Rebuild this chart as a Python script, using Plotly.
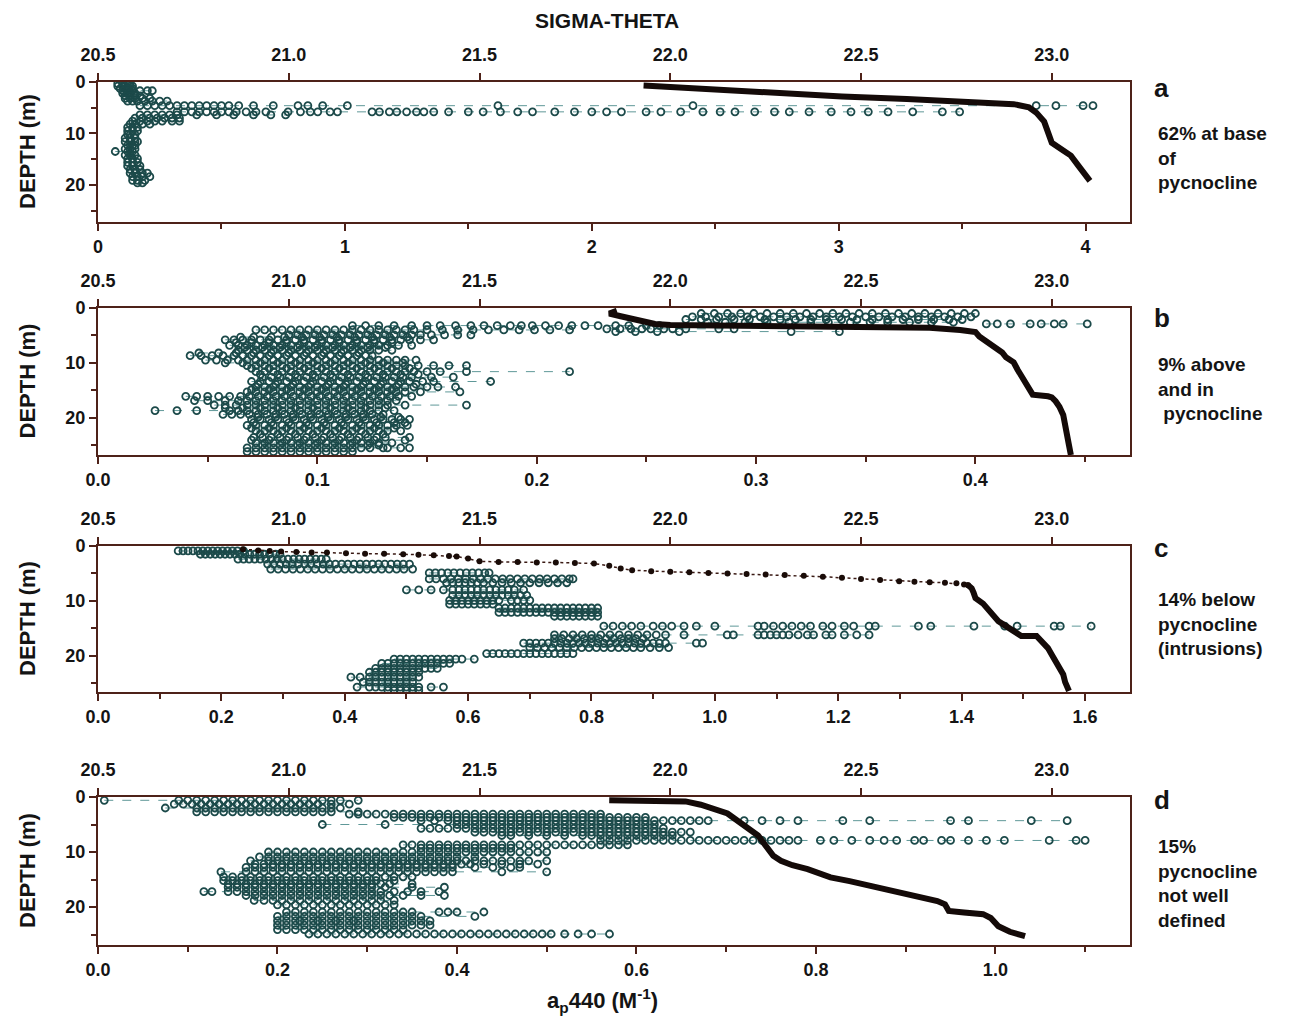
import plotly.graph_objects as go

# ---------------- Panel a ----------------
A_ROW_DEPTH = [0.3, 0.8, 1.3, 1.7, 2.2, 2.7, 3.2, 3.7, 4.6, 5.8, 6.4, 7.0, 7.6, 8.2,
               8.8, 9.5, 10.2, 10.9, 11.6, 12.3, 13.0, 13.5, 14.2, 14.9, 15.6, 16.3,
               17.0, 17.7, 18.4, 19.1, 19.6]
A_ROW_AP = [
    [0.08, 0.10, 0.12, 0.13],
    [0.08, 0.10, 0.11, 0.13, 0.14],
    [0.09, 0.11, 0.12, 0.14],
    [0.10, 0.12, 0.14, 0.17, 0.20, 0.22],
    [0.10, 0.12, 0.13, 0.15],
    [0.11, 0.13, 0.15, 0.17],
    [0.11, 0.13, 0.15, 0.18, 0.21],
    [0.12, 0.14, 0.16, 0.19, 0.22, 0.25, 0.28],
    [0.17, 0.20, 0.23, 0.26, 0.29, 0.32, 0.35, 0.38, 0.41, 0.44, 0.47, 0.50, 0.53,
     0.57, 0.63, 0.71, 0.81, 0.85, 0.91, 1.01, 1.62, 2.41, 3.80, 3.88, 3.99, 4.03],
    [0.32, 0.35, 0.38, 0.41, 0.44, 0.47, 0.50, 0.53, 0.56, 0.60, 0.64, 0.68, 0.77,
     0.82, 0.86, 0.89, 0.94, 0.97, 1.11, 1.14, 1.18, 1.21, 1.25, 1.29, 1.32, 1.36,
     1.42, 1.50, 1.56, 1.63, 1.70, 1.76, 1.85, 1.93, 2.00, 2.06, 2.12, 2.22, 2.28,
     2.36, 2.45, 2.52, 2.58, 2.66, 2.74, 2.80, 2.88, 2.97, 3.05, 3.12, 3.20, 3.30,
     3.42, 3.49],
    [0.17, 0.20, 0.23, 0.26, 0.29, 0.32, 0.40, 0.48, 0.55, 0.63, 0.70, 0.76],
    [0.15, 0.18, 0.21, 0.24, 0.27, 0.30, 0.33],
    [0.14, 0.17, 0.20, 0.23, 0.26, 0.30, 0.33],
    [0.13, 0.15, 0.18, 0.21],
    [0.12, 0.14, 0.16],
    [0.12, 0.14, 0.16],
    [0.12, 0.13, 0.15],
    [0.11, 0.13, 0.15],
    [0.11, 0.13, 0.15, 0.16],
    [0.12, 0.14, 0.15],
    [0.11, 0.13, 0.15],
    [0.07, 0.12, 0.14],
    [0.11, 0.13, 0.15],
    [0.12, 0.14, 0.16],
    [0.12, 0.14, 0.16],
    [0.12, 0.14, 0.17],
    [0.13, 0.15, 0.17],
    [0.13, 0.15, 0.18, 0.20],
    [0.14, 0.16, 0.18, 0.21],
    [0.14, 0.16, 0.19],
    [0.16, 0.18],
]
A_SIG_DEPTH = [0.7, 1.2, 2.2, 2.8, 3.3, 3.8, 4.3, 4.9, 6.0, 7.7, 9.5, 11.8, 13.3,
               14.3, 16.3, 18.0, 19.2]
A_SIG = [21.93, 22.05, 22.28, 22.45, 22.62, 22.80, 22.90, 22.94, 22.96, 22.98,
         22.99, 23.00, 23.03, 23.05, 23.07, 23.09, 23.10]

# ---------------- Panel b ----------------
B_ROW_DEPTH = [1.0, 1.6, 2.1, 2.6, 2.9, 3.2, 3.8, 4.3, 4.0, 4.9, 5.8, 6.8, 7.7, 8.7,
               9.5, 10.5, 11.6, 12.6, 13.4, 14.4, 15.3, 16.1, 16.9, 17.7, 18.7,
               19.4, 20.3, 21.4, 22.4, 23.6, 24.6, 25.5, 26.2,
               5.3, 6.3, 7.2, 8.2, 10.0, 11.0, 12.1, 13.9, 14.9, 18.2, 19.9, 20.9,
               21.9, 23.0, 24.1, 25.0]
B_ROW_AP = [
    [0.275, 0.281, 0.287, 0.293, 0.299, 0.305, 0.311, 0.317, 0.323, 0.329, 0.335,
     0.341, 0.347, 0.353, 0.359, 0.365, 0.371, 0.377, 0.383, 0.389, 0.395, 0.400],
    [0.271, 0.277, 0.283, 0.289, 0.296, 0.302, 0.308, 0.314, 0.320, 0.326, 0.332,
     0.338, 0.344, 0.350, 0.356, 0.362, 0.368, 0.374, 0.380, 0.386, 0.392, 0.398],
    [0.268, 0.275, 0.282, 0.290, 0.297, 0.304, 0.311, 0.318, 0.325, 0.332, 0.339,
     0.346, 0.353, 0.360, 0.367, 0.374, 0.381, 0.388, 0.394],
    [0.278, 0.286, 0.295, 0.305, 0.315, 0.325, 0.333, 0.343, 0.352, 0.360, 0.370,
     0.380, 0.390],
    [0.405, 0.410, 0.416, 0.425, 0.430, 0.436, 0.440, 0.451],
    [0.116, 0.122, 0.128, 0.135, 0.143, 0.150, 0.156, 0.163, 0.170, 0.176, 0.182,
     0.188, 0.193, 0.198, 0.204, 0.210, 0.216, 0.222, 0.228, 0.236, 0.242, 0.250,
     0.256],
    [0.232, 0.238, 0.243, 0.248, 0.252, 0.258, 0.262, 0.268, 0.283, 0.290],
    [0.236, 0.245, 0.255, 0.265, 0.316, 0.338],
    [0.072, 0.076, 0.080, 0.084, 0.088, 0.092, 0.096, 0.100, 0.104, 0.108, 0.112,
     0.116, 0.120, 0.124, 0.128, 0.132, 0.136, 0.140, 0.144, 0.150, 0.157, 0.164,
     0.171, 0.178, 0.185, 0.192, 0.199, 0.206, 0.215],
    [0.087, 0.091, 0.095, 0.099, 0.103, 0.107, 0.111, 0.115, 0.119, 0.123, 0.127,
     0.131, 0.135, 0.139, 0.143, 0.147, 0.152, 0.158, 0.164, 0.170],
    [0.058, 0.062, 0.066, 0.070, 0.074, 0.078, 0.082, 0.086, 0.090, 0.094, 0.098,
     0.102, 0.106, 0.110, 0.114, 0.118, 0.122, 0.126, 0.130, 0.134, 0.138, 0.142,
     0.147, 0.153],
    [0.060, 0.064, 0.068, 0.072, 0.076, 0.080, 0.084, 0.088, 0.092, 0.096, 0.100,
     0.104, 0.108, 0.112, 0.116, 0.120, 0.124, 0.128, 0.132, 0.137, 0.143],
    [0.064, 0.068, 0.072, 0.076, 0.080, 0.084, 0.088, 0.092, 0.096, 0.100, 0.104,
     0.108, 0.112, 0.116, 0.120, 0.124, 0.128, 0.134],
    [0.042, 0.047, 0.052, 0.057, 0.062, 0.066, 0.070, 0.074, 0.078, 0.082, 0.086,
     0.090, 0.094, 0.098, 0.102, 0.106, 0.110, 0.114, 0.118, 0.122, 0.125],
    [0.049, 0.054, 0.059, 0.064, 0.068, 0.072, 0.076, 0.080, 0.084, 0.088, 0.092,
     0.096, 0.100, 0.104, 0.108, 0.112, 0.116, 0.120, 0.124, 0.128, 0.132, 0.136,
     0.140, 0.145],
    [0.068, 0.072, 0.076, 0.080, 0.084, 0.088, 0.092, 0.096, 0.100, 0.104, 0.108,
     0.112, 0.116, 0.120, 0.124, 0.128, 0.132, 0.136, 0.140, 0.146, 0.153, 0.160,
     0.168],
    [0.072, 0.076, 0.080, 0.084, 0.088, 0.092, 0.096, 0.100, 0.104, 0.108, 0.112,
     0.116, 0.120, 0.124, 0.128, 0.132, 0.136, 0.140, 0.144, 0.150, 0.156, 0.168,
     0.215],
    [0.075, 0.079, 0.083, 0.087, 0.091, 0.095, 0.099, 0.103, 0.107, 0.111, 0.115,
     0.119, 0.123, 0.127, 0.131, 0.135, 0.139, 0.143, 0.152, 0.162],
    [0.070, 0.074, 0.078, 0.082, 0.086, 0.090, 0.094, 0.098, 0.102, 0.106, 0.110,
     0.114, 0.118, 0.122, 0.126, 0.130, 0.134, 0.138, 0.142, 0.148, 0.153, 0.179],
    [0.072, 0.076, 0.080, 0.084, 0.088, 0.092, 0.096, 0.100, 0.104, 0.108, 0.112,
     0.116, 0.120, 0.124, 0.128, 0.132, 0.136, 0.140, 0.144, 0.150, 0.155, 0.163],
    [0.068, 0.072, 0.076, 0.080, 0.084, 0.088, 0.092, 0.096, 0.100, 0.104, 0.108,
     0.112, 0.116, 0.120, 0.124, 0.128, 0.132, 0.136, 0.140, 0.147, 0.165],
    [0.040, 0.045, 0.050, 0.055, 0.060, 0.065, 0.069, 0.073, 0.077, 0.081, 0.085,
     0.089, 0.093, 0.097, 0.101, 0.105, 0.109, 0.113, 0.117, 0.121, 0.125, 0.129,
     0.133, 0.137, 0.143],
    [0.044, 0.050, 0.058, 0.064, 0.068, 0.072, 0.076, 0.080, 0.084, 0.088, 0.092,
     0.096, 0.100, 0.104, 0.108, 0.112, 0.116, 0.120, 0.124, 0.128, 0.132, 0.136],
    [0.053, 0.058, 0.063, 0.068, 0.072, 0.076, 0.080, 0.084, 0.088, 0.092, 0.096,
     0.100, 0.104, 0.108, 0.112, 0.116, 0.120, 0.124, 0.128, 0.132, 0.140, 0.168],
    [0.026, 0.036, 0.045, 0.060, 0.064, 0.068, 0.072, 0.076, 0.080, 0.084, 0.088,
     0.092, 0.096, 0.100, 0.104, 0.108, 0.112, 0.116, 0.120, 0.124, 0.128, 0.135],
    [0.057, 0.061, 0.065, 0.069, 0.073, 0.077, 0.081, 0.085, 0.089, 0.093, 0.097,
     0.101, 0.105, 0.109, 0.113, 0.117, 0.121, 0.125, 0.130],
    [0.070, 0.074, 0.078, 0.082, 0.086, 0.090, 0.094, 0.098, 0.102, 0.106, 0.110,
     0.114, 0.118, 0.122, 0.126, 0.130, 0.134, 0.138, 0.142],
    [0.068, 0.072, 0.076, 0.080, 0.084, 0.088, 0.092, 0.096, 0.100, 0.104, 0.108,
     0.112, 0.116, 0.120, 0.124, 0.128, 0.132, 0.136, 0.141],
    [0.072, 0.076, 0.080, 0.084, 0.088, 0.092, 0.096, 0.100, 0.104, 0.108, 0.112,
     0.116, 0.120, 0.124, 0.128, 0.132, 0.138],
    [0.071, 0.075, 0.079, 0.083, 0.087, 0.091, 0.095, 0.099, 0.103, 0.107, 0.111,
     0.115, 0.119, 0.123, 0.127, 0.131, 0.142],
    [0.072, 0.076, 0.080, 0.084, 0.088, 0.092, 0.096, 0.100, 0.104, 0.108, 0.112,
     0.116, 0.120, 0.124, 0.128, 0.134],
    [0.068, 0.072, 0.076, 0.080, 0.084, 0.088, 0.092, 0.096, 0.100, 0.104, 0.108,
     0.112, 0.116, 0.120, 0.124, 0.130, 0.132, 0.138, 0.142],
    [0.068, 0.072, 0.076, 0.080, 0.084, 0.088, 0.092, 0.096, 0.100, 0.104, 0.108,
     0.112, 0.116],
    # staggered in-between rows
    [0.065, 0.071, 0.079, 0.085, 0.093, 0.101, 0.109, 0.117, 0.125, 0.133, 0.141],
    [0.063, 0.070, 0.078, 0.086, 0.094, 0.102, 0.110, 0.118, 0.126, 0.134],
    [0.067, 0.075, 0.083, 0.091, 0.099, 0.107, 0.115, 0.123, 0.131],
    [0.046, 0.055, 0.063, 0.071, 0.079, 0.087, 0.095, 0.103, 0.111, 0.119],
    [0.058, 0.066, 0.074, 0.082, 0.090, 0.098, 0.106, 0.114, 0.122, 0.130, 0.139],
    [0.070, 0.078, 0.086, 0.094, 0.102, 0.110, 0.118, 0.126, 0.134, 0.142],
    [0.074, 0.082, 0.090, 0.098, 0.106, 0.114, 0.122, 0.130, 0.138, 0.146],
    [0.073, 0.081, 0.089, 0.097, 0.105, 0.113, 0.121, 0.129, 0.137, 0.145],
    [0.070, 0.078, 0.086, 0.094, 0.102, 0.110, 0.118, 0.126, 0.134],
    [0.058, 0.066, 0.074, 0.082, 0.090, 0.098, 0.106, 0.114, 0.122, 0.131],
    [0.073, 0.081, 0.089, 0.097, 0.105, 0.113, 0.121, 0.129, 0.137],
    [0.071, 0.079, 0.087, 0.095, 0.103, 0.111, 0.119, 0.127, 0.135, 0.140],
    [0.070, 0.078, 0.086, 0.094, 0.102, 0.110, 0.118, 0.126, 0.135],
    [0.074, 0.082, 0.090, 0.098, 0.106, 0.114, 0.122, 0.130],
    [0.070, 0.078, 0.086, 0.094, 0.102, 0.110, 0.118, 0.126, 0.140],
    [0.075, 0.083, 0.091, 0.099, 0.107, 0.115, 0.123, 0.128],
]
B_SIG_DEPTH = [0.5, 1.0, 1.5, 2.0, 2.5, 2.9, 3.1, 3.2, 3.3, 3.4, 3.6, 4.0, 4.4, 5.2,
               6.2, 7.2, 8.1, 9.0, 9.9, 11.2, 12.4, 13.5, 14.3, 15.8, 16.1, 16.3,
               17.0, 18.0, 19.5, 21.0, 23.0, 25.0, 26.8]
B_SIG = [21.86, 21.84, 21.87, 21.90, 21.93, 21.96, 22.00, 22.20, 22.40, 22.60,
         22.68, 22.76, 22.80, 22.81, 22.83, 22.85, 22.87, 22.88, 22.90, 22.91,
         22.92, 22.93, 22.94, 22.95, 22.99, 23.00, 23.01, 23.02, 23.03, 23.035,
         23.04, 23.045, 23.05]

# ---------------- Panel c ----------------
C_ROW_DEPTH = [0.9, 1.5, 2.4, 3.3, 4.2, 4.9, 6.0, 6.7, 8.0, 9.0, 9.9, 10.6, 11.3,
               12.1, 12.8, 14.6, 16.2, 16.9, 17.7, 18.5, 19.6, 20.6, 21.4, 22.3,
               23.0, 23.9, 24.8, 25.7, 26.3]
C_ROW_AP = [
    [0.130, 0.138, 0.146, 0.154, 0.162, 0.170, 0.178, 0.186, 0.194, 0.202, 0.210,
     0.218, 0.226, 0.236],
    [0.166, 0.174, 0.182, 0.190, 0.198, 0.206, 0.214, 0.222, 0.230, 0.238, 0.246,
     0.254, 0.262, 0.270, 0.278, 0.288, 0.295],
    [0.227, 0.236, 0.245, 0.254, 0.263, 0.272, 0.281, 0.290, 0.299, 0.308, 0.317,
     0.326, 0.335, 0.344, 0.353, 0.362, 0.370],
    [0.275, 0.285, 0.295, 0.305, 0.315, 0.325, 0.335, 0.345, 0.355, 0.365, 0.375,
     0.385, 0.395, 0.405, 0.415, 0.425, 0.435, 0.445, 0.455, 0.465, 0.475, 0.485,
     0.495, 0.505],
    [0.280, 0.292, 0.304, 0.316, 0.328, 0.340, 0.352, 0.364, 0.376, 0.388, 0.400,
     0.412, 0.424, 0.436, 0.448, 0.460, 0.472, 0.484, 0.496, 0.510],
    [0.537, 0.547, 0.557, 0.567, 0.577, 0.587, 0.597, 0.607, 0.617, 0.627, 0.634],
    [0.537, 0.548, 0.560, 0.572, 0.584, 0.596, 0.608, 0.620, 0.632, 0.644, 0.656,
     0.668, 0.680, 0.692, 0.704, 0.716, 0.728, 0.740, 0.752, 0.764, 0.770],
    [0.565, 0.575, 0.585, 0.595, 0.605, 0.615, 0.625, 0.640, 0.655, 0.670, 0.685,
     0.700, 0.715, 0.730, 0.745, 0.760],
    [0.50, 0.52, 0.54, 0.56, 0.575, 0.585, 0.595, 0.605, 0.615, 0.625, 0.635,
     0.645, 0.655, 0.665, 0.675, 0.690],
    [0.575, 0.585, 0.595, 0.605, 0.615, 0.625, 0.635, 0.645, 0.655, 0.665, 0.675,
     0.685, 0.695],
    [0.57, 0.58, 0.59, 0.60, 0.61, 0.62, 0.63, 0.64, 0.65, 0.67, 0.68, 0.69, 0.70],
    [0.57, 0.58, 0.59, 0.60, 0.61, 0.62, 0.63, 0.64],
    [0.650, 0.660, 0.670, 0.680, 0.690, 0.700, 0.710, 0.720, 0.730, 0.740, 0.750,
     0.760, 0.770, 0.780, 0.790, 0.800, 0.810],
    [0.650, 0.660, 0.670, 0.680, 0.690, 0.700, 0.710, 0.720, 0.730, 0.740, 0.750,
     0.760, 0.770, 0.780, 0.790, 0.800, 0.810],
    [0.740, 0.750, 0.760, 0.770, 0.780, 0.790, 0.800, 0.810],
    [0.82, 0.835, 0.85, 0.865, 0.88, 0.90, 0.915, 0.93, 0.95, 0.97, 1.00, 1.07,
     1.08, 1.095, 1.11, 1.125, 1.14, 1.155, 1.175, 1.19, 1.21, 1.225, 1.25, 1.26,
     1.33, 1.35, 1.42, 1.47, 1.49, 1.55, 1.56, 1.61],
    [0.74, 0.755, 0.77, 0.785, 0.80, 0.815, 0.83, 0.845, 0.86, 0.875, 0.89, 0.905,
     0.92, 0.95, 1.02, 1.03, 1.07, 1.08, 1.09, 1.10, 1.11, 1.12, 1.135, 1.15,
     1.16, 1.18, 1.19, 1.21, 1.23, 1.25],
    [0.74, 0.752, 0.764, 0.776, 0.788, 0.80, 0.812, 0.824, 0.836, 0.848, 0.86,
     0.872, 0.884],
    [0.69, 0.70, 0.71, 0.72, 0.73, 0.74, 0.75, 0.76, 0.77, 0.78, 0.79, 0.80, 0.81,
     0.82, 0.83, 0.84, 0.85, 0.86, 0.87, 0.88, 0.89, 0.90, 0.91, 0.92, 0.97, 0.98],
    [0.70, 0.712, 0.724, 0.736, 0.748, 0.76, 0.772, 0.784, 0.796, 0.808, 0.82,
     0.832, 0.844, 0.856, 0.868, 0.88, 0.895, 0.91, 0.925],
    [0.63, 0.64, 0.65, 0.66, 0.67, 0.68, 0.69, 0.70, 0.71, 0.72, 0.73, 0.74, 0.75,
     0.76, 0.77],
    [0.48, 0.49, 0.50, 0.51, 0.52, 0.53, 0.54, 0.55, 0.56, 0.57, 0.58, 0.59, 0.61],
    [0.46, 0.47, 0.48, 0.49, 0.50, 0.51, 0.52, 0.53, 0.54, 0.55, 0.56, 0.57],
    [0.45, 0.46, 0.47, 0.48, 0.49, 0.50, 0.51, 0.52, 0.53, 0.54, 0.55],
    [0.44, 0.45, 0.46, 0.47, 0.48, 0.49, 0.50, 0.51, 0.52],
    [0.41, 0.425, 0.44, 0.45, 0.46, 0.47, 0.48, 0.49, 0.50, 0.51, 0.52],
    [0.43, 0.44, 0.45, 0.46, 0.47, 0.48, 0.49, 0.50, 0.51],
    [0.42, 0.44, 0.45, 0.46, 0.47, 0.48, 0.49, 0.50, 0.51, 0.52, 0.54, 0.56],
    [0.47, 0.48, 0.49, 0.50, 0.51, 0.52],
]
C_SIG_UP_DEPTH = [0.6, 0.8, 0.9, 1.0, 1.1, 1.2, 1.2, 1.3, 1.4, 1.4, 1.5, 1.6, 1.7,
                  1.8, 1.9, 2.3, 2.8, 2.9, 2.9, 3.0, 3.0, 3.1, 3.2, 3.6, 4.1, 4.4,
                  4.6, 4.7, 4.8, 4.9, 5.0, 5.1, 5.2, 5.3, 5.4, 5.6, 5.8, 6.0, 6.2,
                  6.4, 6.5, 6.6, 6.7, 6.8, 7.0, 7.1]
C_SIG_UP = [20.88, 20.92, 20.95, 20.98, 21.02, 21.06, 21.10, 21.15, 21.20, 21.25,
            21.30, 21.34, 21.38, 21.42, 21.44, 21.47, 21.50, 21.55, 21.60, 21.65,
            21.70, 21.75, 21.80, 21.84, 21.87, 21.90, 21.95, 22.00, 22.05, 22.10,
            22.15, 22.20, 22.25, 22.30, 22.35, 22.40, 22.45, 22.50, 22.55, 22.60,
            22.64, 22.68, 22.72, 22.75, 22.77, 22.78]
C_SIG_LOW_DEPTH = [7.1, 7.7, 8.5, 9.5, 10.5, 11.3, 12.5, 13.7, 14.6, 15.5, 16.4,
                   16.4, 17.5, 18.6, 19.8, 21.0, 22.2, 23.4, 24.8, 26.4]
C_SIG_LOW = [22.78, 22.79, 22.795, 22.80, 22.82, 22.83, 22.845, 22.86, 22.88,
             22.90, 22.92, 22.96, 22.975, 22.99, 23.00, 23.01, 23.02, 23.03,
             23.035, 23.045]

# ---------------- Panel d ----------------
D_ROW_DEPTH = [0.6, 1.3, 2.0, 2.7, 3.1, 3.7, 4.3, 5.0, 5.7, 6.4, 7.0, 7.9, 8.7, 9.3,
               10.0, 10.9, 11.6, 12.2, 12.8, 13.6, 14.5, 15.2, 15.8, 16.4, 17.2,
               17.9, 18.8, 19.6, 20.9, 21.7, 22.5, 23.3, 24.1, 24.9]
D_ROW_AP = [
    [0.007, 0.09, 0.10, 0.11, 0.12, 0.13, 0.14, 0.15, 0.16, 0.17, 0.18, 0.19, 0.20,
     0.21, 0.22, 0.23, 0.24, 0.25, 0.26, 0.27, 0.29],
    [0.085, 0.095, 0.105, 0.115, 0.125, 0.135, 0.145, 0.155, 0.165, 0.175, 0.185,
     0.195, 0.205, 0.215, 0.225, 0.235, 0.245, 0.26, 0.28],
    [0.075, 0.11, 0.12, 0.13, 0.14, 0.15, 0.16, 0.17, 0.18, 0.19, 0.20, 0.21, 0.22,
     0.23, 0.24, 0.25, 0.26, 0.27],
    [0.11, 0.12, 0.13, 0.14, 0.15, 0.16, 0.17, 0.18, 0.19, 0.20, 0.21, 0.22, 0.23,
     0.24, 0.25, 0.26, 0.29],
    [0.28, 0.29, 0.30, 0.31, 0.32, 0.33, 0.34, 0.35, 0.36, 0.37, 0.38, 0.39, 0.40,
     0.41, 0.42, 0.43, 0.44, 0.45, 0.46, 0.47, 0.48, 0.49, 0.50, 0.51, 0.52, 0.53,
     0.54, 0.55, 0.56],
    [0.33, 0.34, 0.35, 0.36, 0.37, 0.38, 0.39, 0.40, 0.41, 0.42, 0.43, 0.44, 0.45,
     0.46, 0.47, 0.48, 0.49, 0.50, 0.51, 0.52, 0.53, 0.54, 0.55, 0.56, 0.57, 0.58,
     0.59, 0.60, 0.61],
    [0.36, 0.375, 0.39, 0.40, 0.41, 0.42, 0.43, 0.44, 0.45, 0.46, 0.47, 0.48, 0.49,
     0.50, 0.51, 0.52, 0.53, 0.54, 0.55, 0.56, 0.57, 0.58, 0.59, 0.60, 0.61, 0.62,
     0.63, 0.64, 0.65, 0.66, 0.67, 0.68, 0.72, 0.74, 0.76, 0.78, 0.83, 0.86, 0.95,
     0.97, 1.04, 1.08],
    [0.25, 0.32, 0.40, 0.41, 0.42, 0.43, 0.44, 0.45, 0.46, 0.47, 0.48, 0.49, 0.50,
     0.51, 0.52, 0.53, 0.54, 0.55, 0.56, 0.57, 0.58, 0.59, 0.60, 0.61, 0.62],
    [0.36, 0.37, 0.38, 0.39, 0.40, 0.41, 0.42, 0.43, 0.44, 0.45, 0.46, 0.47, 0.48,
     0.49, 0.50, 0.51, 0.52, 0.53, 0.54, 0.55, 0.56, 0.57, 0.58, 0.59, 0.60, 0.61,
     0.62, 0.63],
    [0.42, 0.43, 0.44, 0.45, 0.46, 0.47, 0.48, 0.49, 0.50, 0.51, 0.52, 0.53, 0.54,
     0.55, 0.56, 0.57, 0.58, 0.59, 0.60, 0.61, 0.62, 0.63, 0.64, 0.65, 0.66],
    [0.45, 0.46, 0.48, 0.50, 0.52, 0.54, 0.55, 0.56, 0.57, 0.58, 0.59, 0.60, 0.61,
     0.62, 0.63, 0.64],
    [0.56, 0.57, 0.58, 0.59, 0.60, 0.61, 0.62, 0.63, 0.64, 0.65, 0.66, 0.67, 0.68,
     0.69, 0.70, 0.71, 0.72, 0.73, 0.74, 0.75, 0.76, 0.77, 0.78, 0.805, 0.82, 0.84,
     0.86, 0.876, 0.89, 0.91, 0.92, 0.94, 0.95, 0.97, 0.99, 1.01, 1.06, 1.09, 1.10],
    [0.34, 0.35, 0.36, 0.37, 0.38, 0.39, 0.40, 0.41, 0.42, 0.43, 0.44, 0.45, 0.46,
     0.47, 0.48, 0.49, 0.50, 0.51, 0.52, 0.53, 0.54, 0.55, 0.56, 0.57, 0.58, 0.59],
    [0.36, 0.37, 0.38, 0.39, 0.40, 0.41, 0.42, 0.43, 0.44, 0.45, 0.46],
    [0.19, 0.20, 0.21, 0.22, 0.23, 0.24, 0.25, 0.26, 0.27, 0.28, 0.29, 0.30, 0.31,
     0.32, 0.33, 0.34, 0.35, 0.36, 0.37, 0.38, 0.39, 0.40, 0.41, 0.42, 0.43, 0.44,
     0.45, 0.46, 0.47, 0.48, 0.49, 0.50],
    [0.18, 0.19, 0.20, 0.21, 0.22, 0.23, 0.24, 0.25, 0.26, 0.27, 0.28, 0.29, 0.30,
     0.31, 0.32, 0.33, 0.34, 0.35, 0.36, 0.37, 0.38, 0.39, 0.40, 0.42],
    [0.17, 0.19, 0.20, 0.21, 0.22, 0.23, 0.24, 0.25, 0.26, 0.27, 0.28, 0.29, 0.30,
     0.31, 0.32, 0.33, 0.34, 0.35, 0.36, 0.37, 0.38, 0.39, 0.40, 0.41, 0.42, 0.43,
     0.44, 0.45, 0.46, 0.47, 0.48, 0.50],
    [0.175, 0.185, 0.195, 0.205, 0.215, 0.225, 0.235, 0.245, 0.255, 0.265, 0.275,
     0.285, 0.295, 0.305, 0.315, 0.325, 0.335, 0.345, 0.355, 0.365, 0.375, 0.385,
     0.395, 0.405, 0.415, 0.43, 0.45, 0.47, 0.49],
    [0.165, 0.175, 0.185, 0.195, 0.205, 0.215, 0.225, 0.235, 0.245, 0.255, 0.265,
     0.275, 0.285, 0.295, 0.305, 0.315, 0.325, 0.335, 0.345, 0.355, 0.365, 0.375,
     0.385, 0.395, 0.42, 0.44, 0.46, 0.47],
    [0.137, 0.165, 0.175, 0.185, 0.195, 0.205, 0.215, 0.225, 0.235, 0.245, 0.255,
     0.265, 0.275, 0.285, 0.295, 0.305, 0.315, 0.325, 0.335, 0.345, 0.355, 0.365,
     0.375, 0.385, 0.395, 0.45, 0.50],
    [0.14, 0.15, 0.16, 0.17, 0.18, 0.19, 0.20, 0.21, 0.22, 0.23, 0.24, 0.25, 0.26,
     0.27, 0.28, 0.29, 0.30, 0.31, 0.32, 0.33, 0.34, 0.35],
    [0.14, 0.15, 0.16, 0.17, 0.18, 0.19, 0.20, 0.21, 0.22, 0.23, 0.24, 0.25, 0.26,
     0.27, 0.28, 0.29, 0.30, 0.31, 0.33],
    [0.145, 0.155, 0.165, 0.175, 0.185, 0.195, 0.205, 0.215, 0.225, 0.235, 0.245,
     0.255, 0.265, 0.275, 0.285, 0.295, 0.305, 0.315, 0.325, 0.35],
    [0.145, 0.155, 0.165, 0.175, 0.185, 0.195, 0.205, 0.215, 0.225, 0.235, 0.245,
     0.255, 0.265, 0.275, 0.285, 0.295, 0.305, 0.32, 0.35, 0.386],
    [0.118, 0.127, 0.145, 0.155, 0.165, 0.175, 0.185, 0.195, 0.205, 0.215, 0.225,
     0.235, 0.245, 0.255, 0.265, 0.275, 0.285, 0.295, 0.305, 0.315, 0.33, 0.345,
     0.36, 0.38],
    [0.165, 0.175, 0.185, 0.195, 0.205, 0.215, 0.225, 0.235, 0.245, 0.255, 0.265,
     0.275, 0.285, 0.295, 0.305, 0.315, 0.325, 0.34, 0.36, 0.386],
    [0.174, 0.185, 0.195, 0.205, 0.215, 0.225, 0.235, 0.245, 0.255, 0.265, 0.275,
     0.285, 0.295, 0.305, 0.315, 0.33],
    [0.20, 0.21, 0.22, 0.23, 0.24, 0.25, 0.26, 0.27, 0.28, 0.29, 0.30, 0.31, 0.32,
     0.33],
    [0.21, 0.22, 0.23, 0.24, 0.25, 0.26, 0.27, 0.28, 0.29, 0.30, 0.31, 0.32, 0.33,
     0.34, 0.35, 0.38, 0.39, 0.40, 0.43],
    [0.20, 0.21, 0.22, 0.23, 0.24, 0.25, 0.26, 0.27, 0.28, 0.29, 0.30, 0.31, 0.32,
     0.33, 0.34, 0.35, 0.36, 0.42],
    [0.20, 0.21, 0.22, 0.225, 0.23, 0.24, 0.245, 0.25, 0.26, 0.265, 0.27, 0.28,
     0.285, 0.29, 0.30, 0.31, 0.32, 0.33, 0.34, 0.35, 0.36, 0.37],
    [0.20, 0.21, 0.22, 0.23, 0.24, 0.25, 0.26, 0.27, 0.28, 0.29, 0.30, 0.31, 0.32,
     0.33, 0.34, 0.35, 0.36, 0.37],
    [0.20, 0.21, 0.22, 0.23, 0.24, 0.25, 0.26, 0.27, 0.28, 0.29, 0.30, 0.31, 0.32,
     0.33, 0.34],
    [0.235, 0.245, 0.255, 0.265, 0.275, 0.285, 0.295, 0.305, 0.315, 0.325, 0.335,
     0.345, 0.355, 0.365, 0.375, 0.385, 0.395, 0.405, 0.415, 0.425, 0.435, 0.445,
     0.455, 0.465, 0.475, 0.485, 0.495, 0.505, 0.52, 0.535, 0.55, 0.57],
]
D_SIG_DEPTH = [0.6, 0.6, 0.8, 1.4, 2.1, 3.0, 4.0, 4.9, 6.0, 7.0, 7.9, 8.8, 9.8,
               10.7, 11.6, 12.4, 13.1, 13.8, 14.6, 15.3, 15.9, 16.7, 17.4, 18.2,
               18.9, 19.5, 20.7, 21.0, 21.3, 22.0, 23.5, 24.5, 25.3]
D_SIG = [21.84, 22.02, 22.04, 22.08, 22.11, 22.15, 22.17, 22.19, 22.21, 22.23,
         22.24, 22.25, 22.26, 22.27, 22.29, 22.32, 22.36, 22.39, 22.42, 22.47,
         22.51, 22.56, 22.60, 22.65, 22.70, 22.72, 22.73, 22.77, 22.82, 22.84,
         22.86, 22.89, 22.93]

# ---------------- Axis / label text ----------------
AP_RANGES = [[0, 4.18], [0, 0.4705], [0, 1.673], [0, 1.15]]
AP_DTICK = [1, 0.1, 0.2, 0.2]
AP_MINOR = [0.5, 0.05, 0.1, 0.1]
AP_FMT = ["d", ".1f", ".1f", ".1f"]
SIG_RANGE = [20.5, 23.205]
DEPTH_RANGES = [[27.2, 0], [26.8, 0], [26.6, 0], [26.9, 0]]
PANEL_LETTERS = ["a", "b", "c", "d"]
PANEL_NOTES = ["62% at base<br>of<br>pycnocline",
               "9% above<br>and in<br>\u00a0pycnocline",
               "14% below<br>pycnocline<br>(intrusions)",
               "15%<br>pycnocline<br>not well<br>defined"]

# ---------------- Layout geometry (reference pixels) ----------------
OFF = 8                       # page body margin
W, H = 1298 - 2 * OFF, 1028 - 2 * OFF
PANEL_PX = [(82, 222), (308, 455), (546, 692), (797, 945)]
LEFT_PX, RIGHT_PX = 98, 1130
LETTER_Y = [88, 318, 548, 800]
NOTE_Y = [158, 389, 624, 883]


def px(xp):
    return (xp - OFF) / W


def py(yp):
    return 1 - (yp - OFF) / H


BROWN = "#4e2219"
TEAL = "#1c4a4a"
TEAL_LINE = "#5f9898"
TXT = "#141414"
FONT = "Liberation Sans"


def rows_xy(depths, rows):
    xs, ys = [], []
    for d, r in zip(depths, rows):
        xs += list(r) + [None]
        ys += [d] * len(r) + [None]
    return xs, ys


fig = go.Figure()
rows = [(A_ROW_DEPTH, A_ROW_AP), (B_ROW_DEPTH, B_ROW_AP),
        (C_ROW_DEPTH, C_ROW_AP), (D_ROW_DEPTH, D_ROW_AP)]
sigs = [[(A_SIG_DEPTH, A_SIG)], [(B_SIG_DEPTH, B_SIG)],
        [(C_SIG_LOW_DEPTH, C_SIG_LOW)], [(D_SIG_DEPTH, D_SIG)]]

tickfont = dict(family=FONT, size=18, color=TXT, weight="bold")
layout = dict(template="none", width=W, height=H,
              margin=dict(l=0, r=0, t=0, b=0, autoexpand=False),
              paper_bgcolor="white", plot_bgcolor="white", showlegend=False)

for i in range(4):
    xb = "x" if i == 0 else f"x{2 * i + 1}"
    xt = f"x{2 * i + 2}"
    yy = "y" if i == 0 else f"y{i + 1}"
    top_px, bot_px = PANEL_PX[i]
    ydom = [py(bot_px), py(top_px)]

    dx, dy = rows_xy(*rows[i])
    fig.add_trace(go.Scatter(
        x=dx, y=dy, xaxis=xb, yaxis=yy, mode="lines+markers",
        line=dict(color=TEAL_LINE, width=1, dash="dash"),
        marker=dict(symbol="circle-open", size=7, color=TEAL,
                    line=dict(width=1.8, color=TEAL)),
        connectgaps=False, hoverinfo="skip"))

    if i == 2:
        fig.add_trace(go.Scatter(
            x=C_SIG_UP, y=C_SIG_UP_DEPTH, xaxis=xt, yaxis=yy,
            mode="lines+markers", line=dict(color="#3a1a14", width=1.5, dash="dot"),
            marker=dict(size=6, color="#1a0c08"), hoverinfo="skip"))
    for sd, sv in sigs[i]:
        fig.add_trace(go.Scatter(
            x=sv, y=sd, xaxis=xt, yaxis=yy, mode="lines",
            line=dict(color="#140a08", width=6), hoverinfo="skip"))

    bkey = "xaxis" if i == 0 else f"xaxis{2 * i + 1}"
    tkey = f"xaxis{2 * i + 2}"
    ykey = "yaxis" if i == 0 else f"yaxis{i + 1}"
    layout[bkey] = dict(
        domain=[px(LEFT_PX), px(RIGHT_PX)], anchor=yy, range=AP_RANGES[i],
        dtick=AP_DTICK[i], tick0=0,
        tickformat=AP_FMT[i], showline=True, linecolor=BROWN, linewidth=2,
        ticks="outside", ticklen=7, tickwidth=1.5, tickcolor=BROWN,
        minor=dict(dtick=AP_MINOR[i], tick0=0, ticks="outside", ticklen=5,
                   tickwidth=1.5, tickcolor=BROWN),
        showgrid=False, zeroline=False, tickfont=tickfont, automargin=False)
    layout[tkey] = dict(
        overlaying=xb, anchor=yy, side="top", range=SIG_RANGE, dtick=0.5,
        tick0=20.5, tickformat=".1f", showline=True, linecolor=BROWN,
        linewidth=2, ticks="outside", ticklen=7, tickwidth=1.5, tickcolor=BROWN,
        ticklabelstandoff=5,
        showgrid=False, zeroline=False, tickfont=tickfont, automargin=False)
    layout[ykey] = dict(
        domain=ydom, anchor=xb, range=DEPTH_RANGES[i], dtick=10, tick0=0,
        showline=True, mirror=True, linecolor=BROWN, linewidth=2,
        ticks="outside", ticklen=7, tickwidth=1.5, tickcolor=BROWN,
        minor=dict(dtick=5, tick0=0, ticks="outside", ticklen=5, tickwidth=1.5,
                   tickcolor=BROWN),
        showgrid=False, zeroline=False, tickfont=tickfont, automargin=False)

annotations = [
    dict(text="SIGMA-THETA", x=px(607), y=py(20), xref="paper", yref="paper",
         xanchor="center", yanchor="middle", showarrow=False,
         font=dict(family=FONT, size=21, color=TXT, weight="bold")),
    dict(text="a<sub>p</sub>440 (M<sup>-1</sup>)", x=px(602), y=py(1000),
         xref="paper", yref="paper", xanchor="center", yanchor="middle",
         showarrow=False,
         font=dict(family=FONT, size=22, color=TXT, weight="bold")),
]
for i in range(4):
    top_px, bot_px = PANEL_PX[i]
    annotations.append(dict(
        text="DEPTH (m)", x=px(27), y=py((top_px + bot_px) / 2), xref="paper",
        yref="paper", xanchor="center", yanchor="middle", textangle=-90,
        showarrow=False,
        font=dict(family=FONT, size=22, color=TXT, weight="bold")))
    annotations.append(dict(
        text=PANEL_LETTERS[i], x=px(1152), y=py(LETTER_Y[i]), xref="paper",
        yref="paper", xanchor="left", yanchor="middle", showarrow=False,
        font=dict(family=FONT, size=26, color=TXT, weight="bold")))
    annotations.append(dict(
        text=PANEL_NOTES[i], x=px(1156), y=py(NOTE_Y[i]), xref="paper",
        yref="paper", xanchor="left", yanchor="middle", align="left",
        showarrow=False,
        font=dict(family=FONT, size=19, color=TXT, weight="bold")))
layout["annotations"] = annotations

fig.update_layout(**layout)
fig.write_html("out.html")
